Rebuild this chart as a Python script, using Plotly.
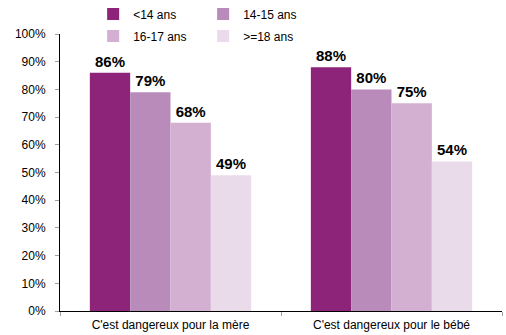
import plotly.graph_objects as go

categories = ["C'est dangereux pour la mère", "C'est dangereux pour le bébé"]
age_groups = ["<14 ans", "14-15 ans", "16-17 ans", ">=18 ans"]
values = {
    "<14 ans": [0.86, 0.88],
    "14-15 ans": [0.79, 0.80],
    "16-17 ans": [0.68, 0.75],
    ">=18 ans": [0.49, 0.54],
}
colors = ["#8E2479", "#B98BBB", "#D3AFD1", "#EADBEA"]
legend_ids = ["legend", "legend", "legend2", "legend2"]

fig = go.Figure()
for name, color, lg in zip(age_groups, colors, legend_ids):
    vals = values[name]
    fig.add_trace(go.Bar(
        x=categories, y=vals, name=name, marker_color=color,
        marker_line_width=0,
        text=[f"{round(v * 100)}%" for v in vals],
        textposition="outside", cliponaxis=False,
        textfont=dict(family="Liberation Sans, Arial", size=15, color="#000000"),
        texttemplate="<b>%{text}</b>",
        legend=lg,
    ))

legend_common = dict(
    orientation="h", xanchor="left", yanchor="middle",
    font=dict(family="Liberation Sans, Arial", size=12, color="#000000"),
    bgcolor="rgba(0,0,0,0)", entrywidth=65, itemwidth=30,
    traceorder="normal",
)

fig.update_layout(
    width=506, height=335,
    margin=dict(l=60, r=4, t=34, b=24, autoexpand=False),
    paper_bgcolor="white", plot_bgcolor="white",
    barmode="group", bargap=0.27, bargroupgap=0,
    font=dict(family="Liberation Sans, Arial", size=12, color="#000000"),
    legend=dict(x=0.075, y=1.072, **legend_common),
    legend2=dict(x=0.075, y=0.993, **legend_common),
    xaxis=dict(
        showline=True, linecolor="#000000", linewidth=1,
        ticks="outside", tickson="boundaries", ticklen=4, tickcolor="#A0A0A0",
        tickfont=dict(size=12), showgrid=False, ticklabelstandoff=3,
    ),
    yaxis=dict(
        range=[0, 1], dtick=0.1, tickformat=".0%",
        showline=True, linecolor="#000000", linewidth=1,
        ticks="outside", ticklen=4, tickcolor="#A0A0A0",
        tickfont=dict(size=12), showgrid=False, zeroline=False,
        ticklabelstandoff=7,
    ),
)

fig.write_html("out.html")
